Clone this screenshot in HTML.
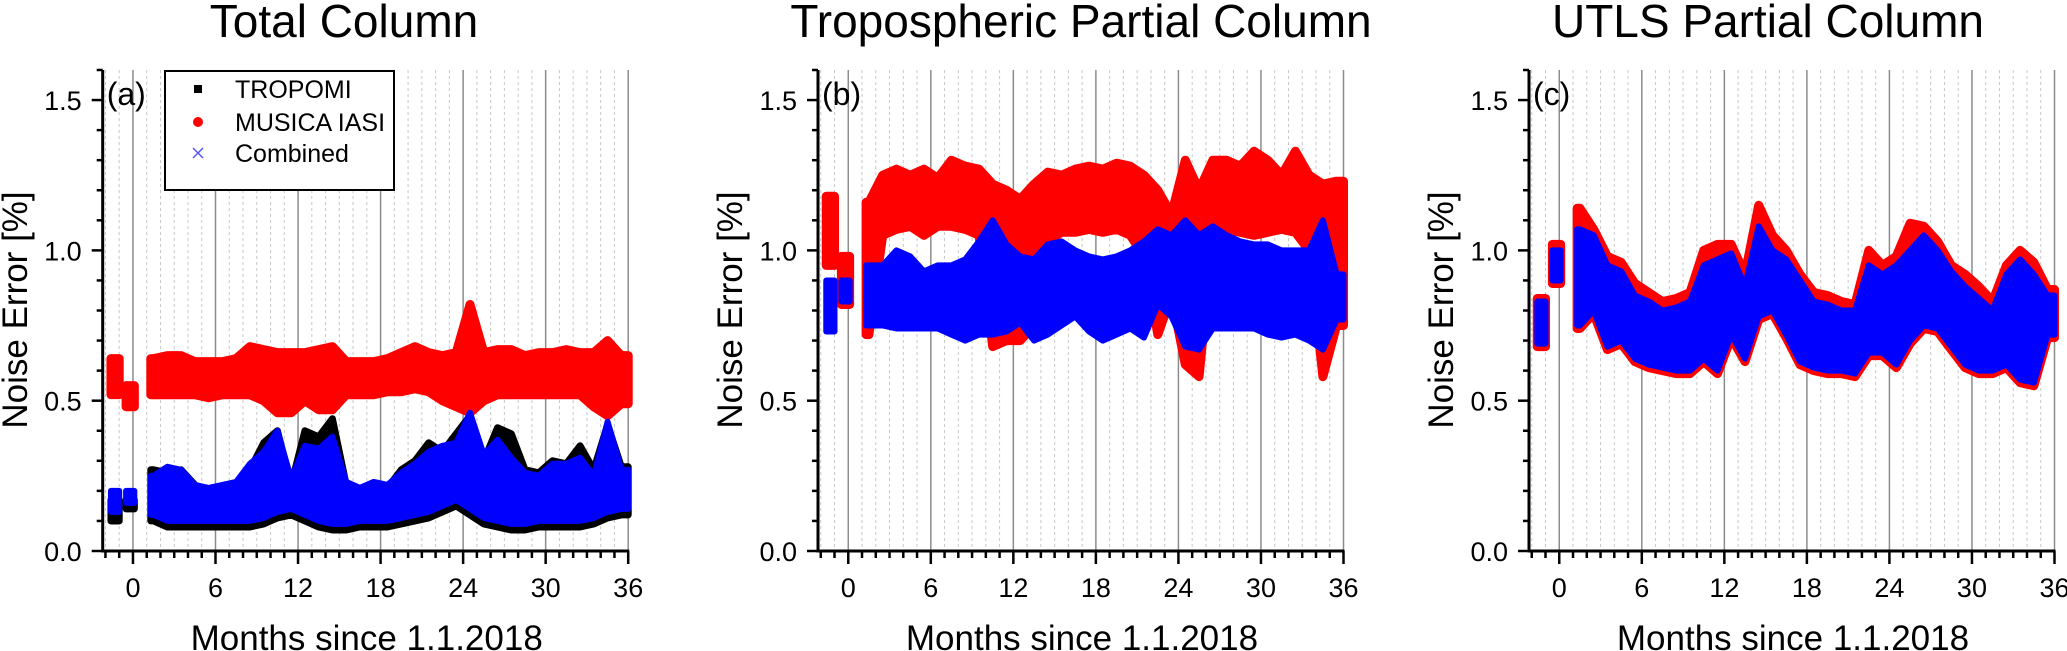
<!DOCTYPE html>
<html><head><meta charset="utf-8">
<style>
html,body{margin:0;padding:0;background:#fff;}
svg{display:block;font-family:"Liberation Sans",Arial,sans-serif;}
</style></head>
<body>
<svg id="fig" width="2067" height="651" viewBox="0 0 2067 651" xmlns="http://www.w3.org/2000/svg"></svg>
<script>
// ---- data (months since 1.1.2018 bin centres, noise error [%] ranges) ----
const months = [-1.3,-0.2,1.5,2.5,3.5,4.5,5.5,6.5,7.5,8.5,9.5,10.5,11.5,12.5,13.5,14.5,15.5,16.5,17.5,18.5,19.5,20.5,21.5,22.5,23.5,24.5,25.5,26.5,27.5,28.5,29.5,30.5,31.5,32.5,33.5,34.5,35.5];
const xTicks = [0,6,12,18,24,30,36];
const yTicks = [0.0,0.5,1.0,1.5];
const yTickLabels = ["0.0","0.5","1.0","1.5"];

// panel (a) total column
const aTropLo = [.10,.14,.10,.08,.08,.08,.08,.08,.08,.08,.09,.11,.12,.10,.08,.07,.07,.08,.08,.08,.09,.10,.11,.13,.15,.12,.09,.08,.07,.07,.08,.08,.08,.08,.09,.11,.12];
const aTropHi = [.17,.17,.27,.26,.27,.22,.20,.21,.22,.27,.36,.40,.22,.40,.38,.44,.22,.20,.22,.21,.27,.30,.36,.33,.39,.45,.30,.41,.39,.27,.26,.30,.29,.35,.27,.42,.28];
const aIasiLo = [.52,.48,.52,.52,.52,.52,.51,.52,.52,.52,.50,.46,.46,.50,.47,.47,.52,.52,.52,.53,.53,.54,.53,.50,.48,.46,.50,.52,.52,.52,.52,.52,.52,.52,.48,.45,.49];
const aIasiHi = [.64,.55,.64,.65,.65,.63,.63,.63,.64,.68,.67,.66,.66,.66,.67,.68,.63,.63,.63,.64,.66,.68,.66,.65,.66,.82,.66,.67,.67,.65,.66,.66,.67,.66,.66,.70,.65];
const aCombLo = [.13,.16,.12,.10,.10,.10,.10,.10,.10,.10,.11,.13,.14,.12,.10,.09,.09,.10,.10,.10,.11,.12,.13,.15,.17,.14,.11,.10,.09,.09,.10,.10,.10,.10,.11,.13,.14];
const aCombHi = [.20,.20,.25,.28,.27,.22,.21,.22,.23,.29,.33,.40,.24,.35,.34,.38,.23,.21,.23,.22,.26,.29,.33,.35,.36,.46,.32,.37,.31,.26,.25,.29,.29,.31,.25,.43,.27];

// panel (b) tropospheric partial column
const bIasiLo = [.95,.82,.72,1.05,1.07,1.08,1.05,1.08,1.08,1.07,1.05,.68,.70,.70,.75,1.03,1.06,1.06,1.07,1.06,1.07,1.05,.98,.72,.85,.62,.58,1.05,1.07,1.06,1.05,1.06,1.07,1.06,1.00,.58,.75];
const bIasiHi = [1.18,.98,1.16,1.25,1.27,1.25,1.27,1.24,1.30,1.28,1.27,1.22,1.20,1.17,1.22,1.26,1.25,1.27,1.28,1.27,1.29,1.28,1.25,1.20,1.12,1.30,1.20,1.30,1.30,1.28,1.33,1.30,1.25,1.33,1.25,1.22,1.23];
const bCombLo = [.73,.83,.75,.75,.74,.74,.74,.74,.72,.70,.72,.72,.73,.76,.70,.72,.75,.78,.73,.70,.72,.74,.71,.82,.78,.68,.67,.74,.74,.74,.74,.72,.71,.72,.70,.67,.77];
const bCombHi = [.90,.90,.95,.95,1.00,.98,.93,.95,.95,.97,1.03,1.10,1.02,.98,.97,1.02,1.03,1.00,.98,.97,.98,1.00,1.03,1.07,1.05,1.10,1.05,1.08,1.05,1.03,1.02,1.02,1.00,1.00,1.00,1.10,.92];

// panel (c) UTLS partial column
const cIasiLo = [.68,.89,.74,.79,.67,.69,.63,.61,.60,.59,.59,.63,.59,.71,.63,.77,.79,.71,.62,.60,.59,.59,.58,.65,.65,.61,.69,.74,.73,.67,.61,.59,.59,.61,.56,.55,.71];
const cIasiHi = [.84,1.02,1.14,1.07,.98,.96,.89,.86,.83,.84,.86,1.00,1.02,1.02,.92,1.15,1.05,1.00,.92,.86,.85,.83,.82,1.00,.95,.98,1.09,1.08,1.03,.95,.92,.88,.83,.95,1.00,.96,.87];
const cCombLo = [.69,.90,.75,.80,.68,.70,.64,.62,.61,.60,.60,.64,.60,.72,.64,.78,.80,.72,.63,.61,.60,.60,.59,.66,.66,.62,.70,.75,.74,.68,.62,.60,.60,.62,.57,.56,.72];
const cCombHi = [.83,1.00,1.07,1.05,.95,.93,.85,.83,.80,.81,.83,.95,.97,.99,.88,1.08,1.00,.97,.90,.83,.82,.80,.80,.95,.92,.95,1.00,1.05,1.00,.93,.88,.84,.80,.92,.97,.92,.85];

// ---- layout ----
const NS = "http://www.w3.org/2000/svg";
const svg = document.getElementById("fig");
const X_MIN = -2.2, X_MAX = 36, Y_MIN = 0, Y_MAX = 1.6;
const TOP = 70, BOTTOM = 551, AXW = 525.5;
const panels = [
  {left:102.7, title:"Total Column", tcx:344, tag:"(a)", ylx:27, key:"total-column"},
  {left:818, title:"Tropospheric Partial Column", tcx:1081, tag:"(b)", ylx:742, key:"tropospheric-column"},
  {left:1529, title:"UTLS Partial Column", tcx:1768, tag:"(c)", ylx:1453, key:"utls-column"}
];
function mk(tag, attrs, parent){
  const el = document.createElementNS(NS, tag);
  for (const k in attrs) el.setAttribute(k, attrs[k]);
  (parent||svg).appendChild(el);
  return el;
}
function xs(p, v){ return p.left + (v - X_MIN) / (X_MAX - X_MIN) * AXW; }
function ys(v){ return BOTTOM - (v - Y_MIN) / (Y_MAX - Y_MIN) * (BOTTOM - TOP); }

function drawBand(p, g, lo, hi, color, sw, name){
  // isolated early bins (before the main record starts) drawn as short blocks
  for (let i = 0; i < 2; i++){
    const x0 = xs(p, months[i] - 0.3), x1 = xs(p, months[i] + 0.3);
    const r = mk("rect", {x:x0, y:ys(hi[i]), width:x1-x0, height:Math.max(0.5, ys(lo[i]) - ys(hi[i])), fill:color, stroke:color, "stroke-width":sw, "stroke-linejoin":"round"}, g);
    
    
  }
  // continuous record from month ~1.3 to 36 as an envelope polygon
  const top = [], bot = [];
  const n = months.length;
  top.push([xs(p, months[2] - 0.2), ys(hi[2])]);
  for (let i = 2; i < n; i++) top.push([xs(p, months[i]), ys(hi[i])]);
  top.push([xs(p, months[n-1] + 0.5), ys(hi[n-1])]);
  bot.push([xs(p, months[n-1] + 0.5), ys(lo[n-1])]);
  for (let i = n - 1; i >= 2; i--) bot.push([xs(p, months[i]), ys(lo[i])]);
  bot.push([xs(p, months[2] - 0.2), ys(lo[2])]);
  const pts = top.concat(bot).map(q => q[0].toFixed(1) + "," + q[1].toFixed(1)).join(" ");
  const pg = mk("polygon", {points:pts, fill:color, stroke:color, "stroke-width":sw, "stroke-linejoin":"round"}, g);
  
  
}

panels.forEach((p, pi) => {
  const g = mk("g", {});
  
  
  const right = p.left + AXW;

  const t = mk("text", {x:p.tcx, y:37, "font-size":46, "text-anchor":"middle", fill:"#000"}, g);
  t.textContent = p.title;
  
  

  for (let m = -2; m <= 36; m++){
    const x = xs(p, m);
    if (m >= 0 && m % 6 === 0){
      const l = mk("line", {x1:x, y1:TOP, x2:x, y2:BOTTOM, stroke:"#8c8c8c", "stroke-width":1.5}, g);
      
      
    } else {
      const l = mk("line", {x1:x, y1:TOP, x2:x, y2:BOTTOM, stroke:"#c8c8c8", "stroke-width":1, "stroke-dasharray":"3 3"}, g);
      
      
    }
  }

  if (pi === 0){
    drawBand(p, g, aTropLo, aTropHi, "#000000", 7, "tropomi-points");
    drawBand(p, g, aIasiLo, aIasiHi, "#ff0000", 9, "musica-iasi-points");
    drawBand(p, g, aCombLo, aCombHi, "#0000ff", 6, "combined-points");
  } else if (pi === 1){
    drawBand(p, g, bIasiLo, bIasiHi, "#ff0000", 9, "musica-iasi-points");
    drawBand(p, g, bCombLo, bCombHi, "#0000ff", 6, "combined-points");
  } else {
    drawBand(p, g, cIasiLo, cIasiHi, "#ff0000", 9, "musica-iasi-points");
    drawBand(p, g, cCombLo, cCombHi, "#0000ff", 6, "combined-points");
  }

  const ya = mk("line", {x1:p.left, y1:TOP, x2:p.left, y2:BOTTOM+1.5, stroke:"#000", "stroke-width":3}, g);
  
  
  const xa = mk("line", {x1:p.left-1.5, y1:BOTTOM, x2:right+1, y2:BOTTOM, stroke:"#000", "stroke-width":3}, g);
  
  

  for (let k = 0; k <= 16; k++){
    const v = k / 10, y = ys(v);
    const major = (k % 5 === 0);
    const tk = mk("line", {x1:p.left - (major ? 11 : 6), y1:y, x2:p.left, y2:y, stroke:"#000", "stroke-width":2.5}, g);
    
    
  }
  yTicks.forEach((v, i) => {
    const tl = mk("text", {x:p.left - 21, y:ys(v) + 10, "font-size":27, "text-anchor":"end", fill:"#000"}, g);
    tl.textContent = yTickLabels[i];
    
    
  });

  for (let m = -2; m <= 36; m++){
    const x = xs(p, m);
    const major = (m >= 0 && m % 6 === 0);
    const tk = mk("line", {x1:x, y1:BOTTOM, x2:x, y2:BOTTOM + (major ? 13 : 7), stroke:"#000", "stroke-width":2.5}, g);
    
    
  }
  xTicks.forEach(v => {
    const tl = mk("text", {x:xs(p, v), y:597, "font-size":27, "text-anchor":"middle", fill:"#000"}, g);
    tl.textContent = String(v);
    
    
  });

  const xt = mk("text", {x:p.left + 264, y:650, "font-size":35, "text-anchor":"middle", fill:"#000"}, g);
  xt.textContent = "Months since 1.1.2018";
  
  
  const yt = mk("text", {x:0, y:0, "font-size":35, "text-anchor":"middle", fill:"#000", transform:`translate(${p.ylx},310) rotate(-90)`}, g);
  yt.textContent = "Noise Error [%]";
  
  

  const tg = mk("text", {x:p.left + 4, y:105, "font-size":32, fill:"#000"}, g);
  tg.textContent = p.tag;
  
  
});

// legend (panel a)
const lg = mk("g", {});


const lb = mk("rect", {x:165, y:71, width:229, height:119, fill:"#fff", stroke:"#000", "stroke-width":2}, lg);


const s1 = mk("rect", {x:194, y:85, width:8, height:8, fill:"#000"}, lg);


const s2 = mk("circle", {cx:198, cy:122, r:5, fill:"#ff0000"}, lg);


const s3 = mk("path", {d:"M193 148 L203 158 M203 148 L193 158", stroke:"#5555ff", "stroke-width":1.5, fill:"none"}, lg);


const l1 = mk("text", {x:235, y:98, "font-size":25, fill:"#000"}, lg);
l1.textContent = "TROPOMI";


const l2 = mk("text", {x:235, y:131, "font-size":25, fill:"#000"}, lg);
l2.textContent = "MUSICA IASI";


const l3 = mk("text", {x:235, y:162, "font-size":25, fill:"#000"}, lg);
l3.textContent = "Combined";


</script>
</body></html>
